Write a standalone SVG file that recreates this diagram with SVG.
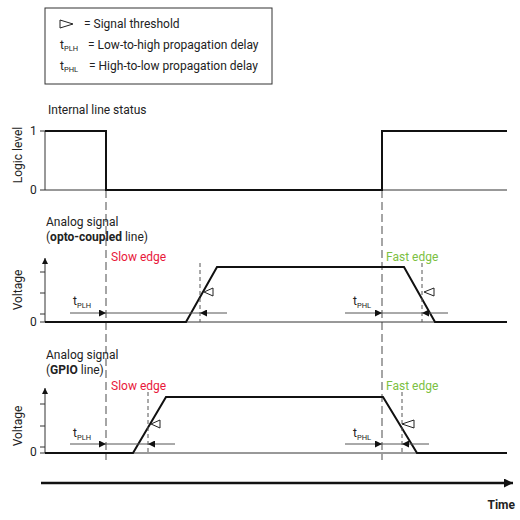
<svg xmlns="http://www.w3.org/2000/svg" width="520" height="520" viewBox="0 0 520 520">
<defs>
<style>
text{font-family:Roboto,"Liberation Sans",sans-serif;font-size:12px;fill:#222}
.sub{font-size:7.5px}
.sig{fill:none;stroke:#111;stroke-width:2;stroke-linejoin:miter}
.axis{fill:none;stroke:#333;stroke-width:1}
.meas{fill:none;stroke:#555;stroke-width:1}
.long{fill:none;stroke:#888;stroke-width:1.5;stroke-dasharray:8 4}
.thr{fill:none;stroke:#555;stroke-width:1;stroke-dasharray:4 3}
.tri{fill:#fff;stroke:#222;stroke-width:1}
.red{fill:#e8173a}
.green{fill:#7cbf42}
.bold{font-weight:bold}
</style>
<marker id="ah" viewBox="0 0 10 10" refX="10" refY="5" markerWidth="9" markerHeight="7" markerUnits="userSpaceOnUse" orient="auto"><path d="M0,0L10,5L0,10z" fill="#111"/></marker>
<marker id="ax" viewBox="0 0 10 10" refX="10" refY="5" markerWidth="6" markerHeight="8" markerUnits="userSpaceOnUse" orient="auto"><path d="M0,0L10,5L0,10z" fill="#111"/></marker>
<marker id="ta" viewBox="0 0 10 10" refX="10" refY="5" markerWidth="12" markerHeight="9" markerUnits="userSpaceOnUse" orient="auto"><path d="M0,0L10,5L0,10z" fill="#111"/></marker>
</defs>

<g id="legend">
<rect x="45" y="8" width="227" height="76" fill="#fff" stroke="#333" stroke-width="1"/>
<path class="tri" d="M73,24L60,20L60,28z"/>
<text x="84" y="28">= Signal threshold</text>
<text x="60" y="49">t<tspan class="sub" dy="2">PLH</tspan></text>
<text x="88" y="49">= Low-to-high propagation delay</text>
<text x="60" y="70">t<tspan class="sub" dy="2">PHL</tspan></text>
<text x="89" y="70">= High-to-low propagation delay</text>
</g>

<g id="connectors">
<line class="long" x1="106" y1="190" x2="106" y2="460"/>
<line class="long" x1="382" y1="190" x2="382" y2="460"/>
</g>

<g id="chart-logic">
<text x="48" y="114">Internal line status</text>
<text transform="translate(22,155) rotate(-90)" text-anchor="middle">Logic level</text>
<text x="30" y="135">1</text>
<text x="30" y="194">0</text>
<path class="axis" d="M40,131H45V190H507M40,190H45"/>
<path class="sig" d="M45,131H106V190H382V131H507"/>
</g>

<g id="chart-opto">
<text x="46" y="226">Analog signal</text>
<text x="46" y="241">(<tspan class="bold">opto-coupled</tspan> line)</text>
<text class="red" x="111" y="261">Slow edge</text>
<text class="green" x="386" y="261">Fast edge</text>
<text transform="translate(22,290) rotate(-90)" text-anchor="middle">Voltage</text>
<text x="30" y="326">0</text>
<path class="axis" d="M45,322V258" marker-end="url(#ax)"/>
<path class="axis" d="M40,272H45M40,293H45M40,314H45M40,322H507"/>
<path class="sig" d="M45,322H186L217,267H404L435,322H507"/>
<line class="thr" x1="200" y1="263" x2="200" y2="322"/>
<line class="thr" x1="422" y1="263" x2="422" y2="322"/>
<path class="tri" d="M204,292L213,288L213,296z"/>
<path class="tri" d="M424,292L434,288L434,296z"/>
<line class="meas" x1="70" y1="313" x2="106" y2="313" marker-end="url(#ah)"/>
<line class="meas" x1="227" y1="313" x2="200" y2="313" marker-end="url(#ah)"/>
<line class="meas" x1="106" y1="313" x2="200" y2="313"/>
<line class="meas" x1="345" y1="313" x2="382" y2="313" marker-end="url(#ah)"/>
<line class="meas" x1="448" y1="313" x2="422" y2="313" marker-end="url(#ah)"/>
<line class="meas" x1="382" y1="313" x2="422" y2="313"/>
<text x="73" y="305">t<tspan class="sub" dy="3">PLH</tspan></text>
<text x="353" y="305">t<tspan class="sub" dy="3">PHL</tspan></text>
</g>

<g id="chart-gpio">
<text x="46" y="359">Analog signal</text>
<text x="46" y="374">(<tspan class="bold">GPIO</tspan> line)</text>
<text class="red" x="111" y="390">Slow edge</text>
<text class="green" x="386" y="390">Fast edge</text>
<text transform="translate(22,426) rotate(-90)" text-anchor="middle">Voltage</text>
<text x="30" y="456">0</text>
<path class="axis" d="M45,453V388" marker-end="url(#ax)"/>
<path class="axis" d="M40,404H45M40,426H45M40,447H45M40,453H507"/>
<path class="sig" d="M45,453H133L166,397H383L417,453H507"/>
<line class="thr" x1="148" y1="392" x2="148" y2="453"/>
<line class="thr" x1="402" y1="392" x2="402" y2="453"/>
<path class="tri" d="M151,424L160,420L160,428z"/>
<path class="tri" d="M402,424L414,420L414,428z"/>
<line class="meas" x1="70" y1="444" x2="106" y2="444" marker-end="url(#ah)"/>
<line class="meas" x1="175" y1="444" x2="148" y2="444" marker-end="url(#ah)"/>
<line class="meas" x1="106" y1="444" x2="148" y2="444"/>
<line class="meas" x1="345" y1="444" x2="382" y2="444" marker-end="url(#ah)"/>
<line class="meas" x1="429" y1="444" x2="402" y2="444" marker-end="url(#ah)"/>
<line class="meas" x1="382" y1="444" x2="402" y2="444"/>
<text x="73" y="437">t<tspan class="sub" dy="3">PLH</tspan></text>
<text x="353" y="437">t<tspan class="sub" dy="3">PHL</tspan></text>
</g>

<g id="time-axis">
<line x1="41" y1="483" x2="513" y2="483" stroke="#111" stroke-width="2.5" marker-end="url(#ta)"/>
<text class="bold" x="515" y="509" text-anchor="end">Time</text>
</g>
</svg>
